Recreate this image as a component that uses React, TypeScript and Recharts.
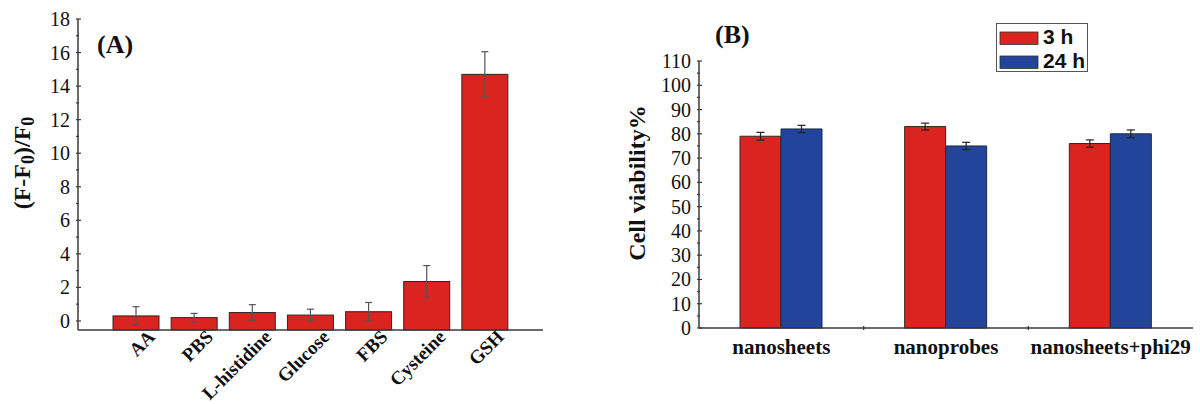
import React from 'react';
import { BarChart, Bar, XAxis, YAxis, ErrorBar, Legend } from 'recharts';

// Panel A: fluorescence response to each analyte
const analytes = ['AA', 'PBS', 'L-histidine', 'Glucose', 'FBS', 'Cysteine', 'GSH'];
const response = [0.3, 0.2, 0.5, 0.35, 0.55, 2.35, 14.7];
const responseErr = [0.55, 0.25, 0.47, 0.35, 0.55, 0.95, 1.35];
const responseTicks = [0, 1, 2, 3, 4, 5, 6, 7, 8, 9, 10, 11, 12, 13, 14, 15, 16, 17, 18];

// Panel B: cell viability after 3 h and 24 h
const samples = ['nanosheets', 'nanoprobes', 'nanosheets+phi29'];
const viability3h = [79, 83, 76];
const viability3hErr = [1.6, 1.4, 1.5];
const viability24h = [82, 75, 80];
const viability24hErr = [1.5, 1.5, 1.6];
const viabilityTicks = [0, 5, 10, 15, 20, 25, 30, 35, 40, 45, 50, 55, 60, 65, 70, 75, 80, 85, 90, 95, 100, 105, 110];
const seriesOrder = ['h3', 'h24'];

const dataA = analytes.map((name, i) => ({ name, value: response[i], err: responseErr[i] }));
const dataB = samples.map((name, i) => ({
    name,
    h3: viability3h[i],
    h3Err: viability3hErr[i],
    h24: viability24h[i],
    h24Err: viability24hErr[i],
}));

const RED = '#d9241f';
const BLUE = '#22449a';
const AXIS = '#3a3a3a';
const SERIF = '"Liberation Serif", "Times New Roman", serif';
const SANS = '"Liberation Sans", Arial, sans-serif';

const PLOT_B_WIDTH = 494;

const axisLine = { stroke: AXIS, strokeWidth: 1.5 };

// bars in panel A start at the bottom of the plot, not at zero
const ToAxisBar = (props: any) => {
    const { x, y, width, height, background, fill } = props;
    const bottom = background ? background.y + background.height : y + height;
    return <rect x={x} y={y} width={width} height={bottom - y} fill={fill} stroke="#3b2222" strokeWidth={1} />;
};

const makeYTick = (labelEvery: number) => (props: any) => {
    const { x, y, payload } = props;
    const major = payload.value % labelEvery === 0;
    return (
        <g>
            <line x1={x} y1={y} x2={x + (major ? 5 : 3)} y2={y} stroke={AXIS} strokeWidth={1.2} />
            {major && (
                <text x={x - 6} y={y} dy="0.35em" textAnchor="end" fontFamily={SERIF} fontSize={20} fill="#111">
                    {payload.value}
                </text>
            )}
        </g>
    );
};

const AnalyteTick = (props: any) => {
    const { x, y, payload } = props;
    return (
        <g transform={`translate(${x + 20},${y + 6})`}>
            <text textAnchor="end" transform="rotate(-45)" fontFamily={SERIF} fontWeight="bold" fontSize={19} fill="#111">
                {payload.value}
            </text>
        </g>
    );
};

const SampleTick = (props: any) => {
    const { x, y, payload, index } = props;
    const half = PLOT_B_WIDTH / samples.length / 2;
    return (
        <g>
            <text x={x} y={y + 24} textAnchor="middle" fontFamily={SERIF} fontWeight="bold" fontSize={21} fill="#111">
                {payload.value}
            </text>
            {index < samples.length - 1 && (
                <line x1={x + half} y1={y} x2={x + half} y2={y - 4} stroke={AXIS} strokeWidth={1.2} />
            )}
        </g>
    );
};

const TimeLegend = (props: any) => {
    const items = [...(props.payload || [])].sort(
        (a: any, b: any) => seriesOrder.indexOf(a.dataKey) - seriesOrder.indexOf(b.dataKey)
    );
    return (
        <svg width={92} height={49} style={{ display: 'block' }}>
            <rect x={0.5} y={0.5} width={91} height={48} fill="#fff" stroke="#555" strokeWidth={1} />
            {items.map((entry: any, i: number) => (
                <g key={entry.value}>
                    <rect x={4} y={9 + i * 24} width={38} height={12.5} fill={entry.color} stroke="#333" strokeWidth={0.8} />
                    <text x={47} y={21 + i * 24} fontFamily={SANS} fontWeight="bold" fontSize={21} fill="#111">
                        {entry.value}
                    </text>
                </g>
            ))}
        </svg>
    );
};

function ResponseChart() {
    return (
        <BarChart width={600} height={404} data={dataA} margin={{ top: 19, right: 57, bottom: 14, left: 0 }} barSize={46}>
            <XAxis
                dataKey="name"
                height={60}
                interval={0}
                padding={{ left: 29, right: 29 }}
                tickSize={0}
                tickLine={false}
                axisLine={axisLine}
                tick={AnalyteTick}
            />
            <XAxis xAxisId="top" orientation="top" height={0} tick={false} tickLine={false} axisLine={axisLine} />
            <YAxis
                width={78}
                domain={[-0.54, 18]}
                ticks={responseTicks}
                interval={0}
                tickSize={0}
                tickLine={false}
                axisLine={axisLine}
                tick={makeYTick(2)}
            />
            <YAxis yAxisId="right" orientation="right" width={0} domain={[0, 1]} tick={false} tickLine={false} axisLine={axisLine} />
            <Bar dataKey="value" fill={RED} shape={ToAxisBar} isAnimationActive={false}>
                <ErrorBar dataKey="err" width={3.5} stroke="#555" strokeWidth={1.2} />
            </Bar>
            <text x={97} y={53} fontFamily={SERIF} fontWeight="bold" fontSize={26} fill="#111">(A)</text>
            <text transform="translate(30,163) rotate(-90)" textAnchor="middle" fontFamily={SERIF} fontWeight="bold" fontSize={24} fill="#111">
                (F-F<tspan fontSize={18} dy={4}>0</tspan><tspan dy={-4}>)/F</tspan><tspan fontSize={18} dy={4}>0</tspan>
            </text>
        </BarChart>
    );
}

function ViabilityChart() {
    return (
        <BarChart width={600} height={404} data={dataB} margin={{ top: 12, right: 7, bottom: 36, left: 0 }} barSize={41} barGap={0}>
            <XAxis dataKey="name" height={40} interval={0} tickSize={0} tickLine={false} axisLine={axisLine} tick={SampleTick} />
            <XAxis xAxisId="top" orientation="top" height={0} tick={false} tickLine={false} axisLine={axisLine} />
            <YAxis
                width={99}
                domain={[0, 110]}
                ticks={viabilityTicks}
                interval={0}
                tickSize={0}
                tickLine={false}
                axisLine={axisLine}
                tick={makeYTick(10)}
            />
            <YAxis yAxisId="right" orientation="right" width={0} domain={[0, 1]} tick={false} tickLine={false} axisLine={axisLine} />
            <Legend
                layout="vertical"
                align="center"
                verticalAlign="top"
                wrapperStyle={{ position: 'absolute', left: 396, top: 23, width: 92, height: 49 }}
                content={TimeLegend}
            />
            <Bar dataKey="h3" name="3 h" fill={RED} stroke="#3b2222" strokeWidth={1} isAnimationActive={false}>
                <ErrorBar dataKey="h3Err" width={4} stroke="#222" strokeWidth={1.2} />
            </Bar>
            <Bar dataKey="h24" name="24 h" fill={BLUE} stroke="#1c2a4a" strokeWidth={1} isAnimationActive={false}>
                <ErrorBar dataKey="h24Err" width={4} stroke="#222" strokeWidth={1.2} />
            </Bar>
            <text x={115} y={43} fontFamily={SERIF} fontWeight="bold" fontSize={26} fill="#111">(B)</text>
            <text transform="translate(45,183) rotate(-90)" textAnchor="middle" fontFamily={SERIF} fontWeight="bold" fontSize={24} fill="#111">
                Cell viability%
            </text>
        </BarChart>
    );
}

export default function App() {
    return (
        <div style={{ position: 'absolute', left: 0, top: 0, width: 1200, height: 404, background: '#fff' }}>
            <div style={{ position: 'absolute', left: 0, top: 0 }}>
                <ResponseChart />
            </div>
            <div style={{ position: 'absolute', left: 600, top: 0 }}>
                <ViabilityChart />
            </div>
        </div>
    );
}
